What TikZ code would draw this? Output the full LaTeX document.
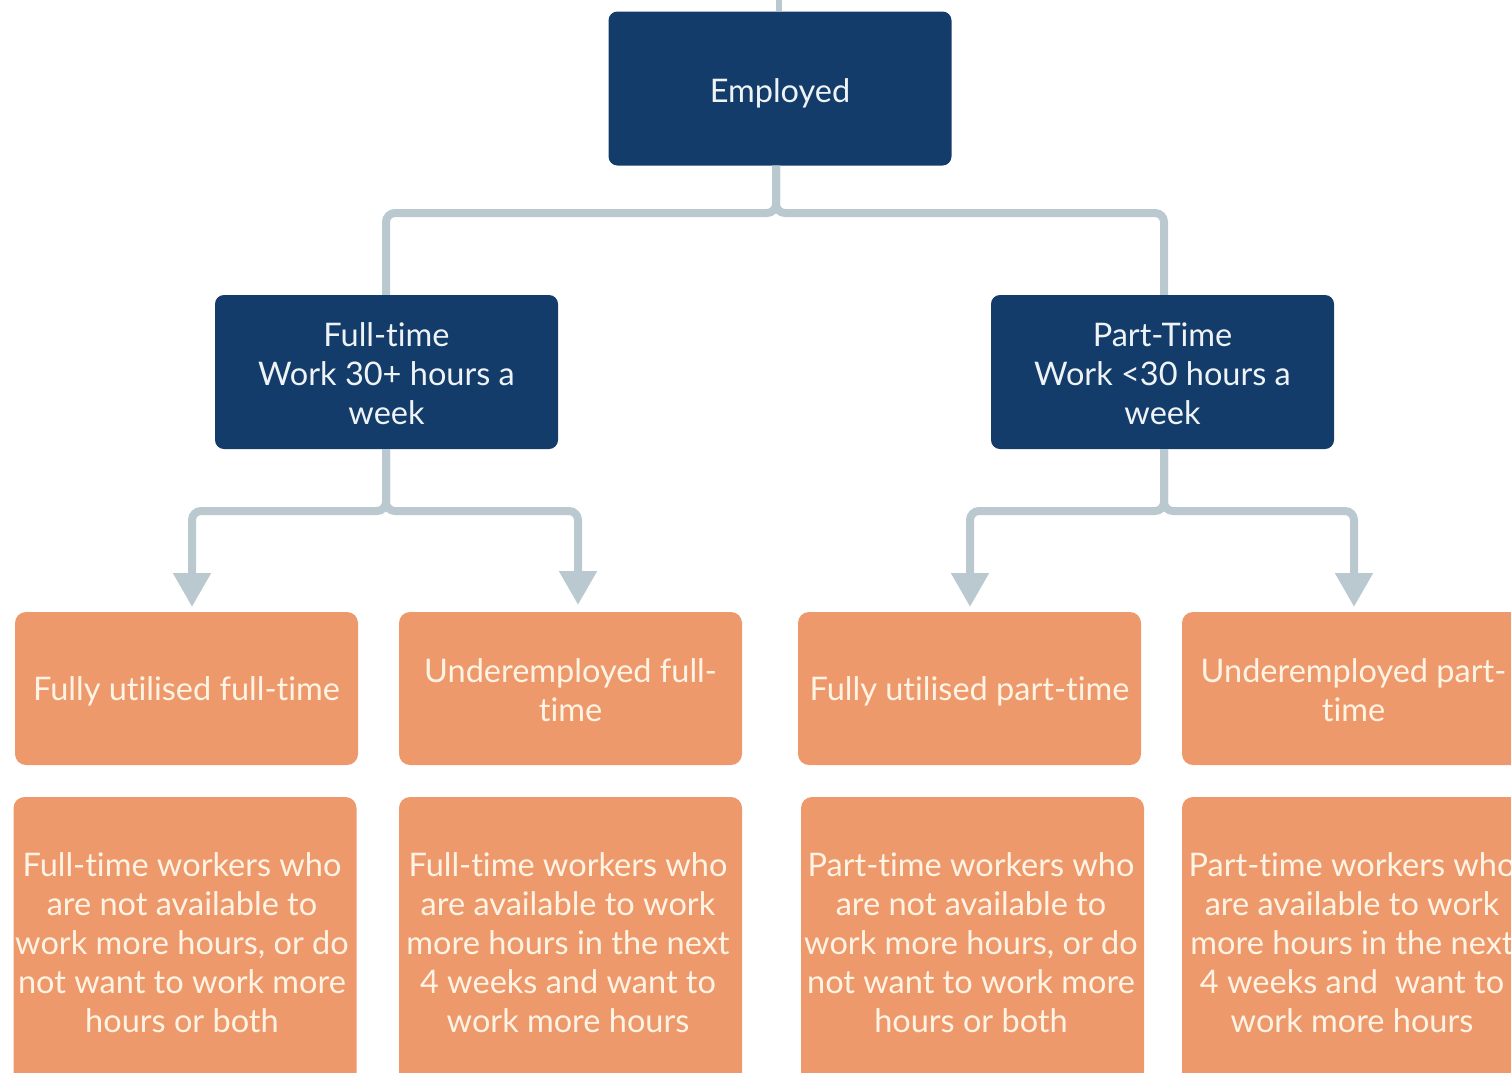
\documentclass[tikz,border=0pt]{standalone}
\usepackage{fontspec}
\setmainfont{Lato}[Ligatures=NoCommon]
\usetikzlibrary{arrows.meta}
\definecolor{navy}{HTML}{143C6B}
\definecolor{peach}{HTML}{EE996C}
\definecolor{linec}{HTML}{B9C9CF}
\definecolor{bluetxt}{HTML}{EEF3F6}
\definecolor{peachtxt}{HTML}{FFF4E4}
\newcommand{\bfnt}{\fontsize{32.5}{39}\selectfont}
\newcommand{\lowr}[2]{\raisebox{-#1}[\height][\depth]{#2}}
\tikzset{
  bluebox/.style={fill=navy, rounded corners=9pt, minimum width=343pt, minimum height=154pt,
    text=bluetxt, align=center, font=\bfnt, inner sep=0pt},
  peachbox/.style={fill=peach, rounded corners=11pt, minimum width=343pt,
    text=peachtxt, align=center, font=\bfnt, inner sep=0pt},
  ptext/.style={text=peachtxt, align=center, font=\bfnt},
  conn/.style={draw=linec, line width=8pt, rounded corners=9pt},
  tip/.style={-{Triangle[width=36pt,length=34pt]}}
}
\begin{document}
\begin{tikzpicture}[x=1pt,y=-1pt]
\useasboundingbox (0,0) rectangle (1511,1072);
% top boxes
\node[bluebox] (emp) at (780,88.5) {\lowr{4.5pt}{Employed}};
\node[bluebox] (ft) at (386.5,372) {\lowr{2pt}{\parbox{340pt}{\centering Full-time\\Work 30+ hours a\\week}}};
\node[bluebox] (pt) at (1162.5,372) {\lowr{2pt}{\parbox{340pt}{\centering Part-Time\\Work <30 hours a\\week}}};
% row 1
\node[peachbox, minimum height=153pt] (b1) at (186.5,688.5) {\lowr{3pt}{Fully utilised full-time}};
\node[peachbox, minimum height=153pt] (b2) at (570.5,688.5) {\lowr{2pt}{\parbox{340pt}{\centering Underemployed full-\\time}}};
\node[peachbox, minimum height=153pt] (b3) at (969.5,688.5) {\lowr{3pt}{Fully utilised part-time}};
\node[peachbox, minimum height=153pt] (b4) at (1353.5,688.5) {\lowr{2pt}{\parbox{340pt}{\centering Underemployed part-\\time}}};
% row 2
\node[peachbox, minimum height=300pt] (d1) at (185,947) {};
\node[peachbox, minimum height=300pt] (d2) at (570.5,947) {};
\node[peachbox, minimum height=300pt] (d3) at (972.5,947) {};
\node[peachbox, minimum height=300pt] (d4) at (1353.5,947) {};
\node[ptext] (t1) at (182,942.5) {Full-time workers who\\are not available to\\work more hours, or do\\not want to work more\\hours or both};
\node[ptext] (t2) at (568,942.5) {Full-time workers who\\are available to work\\more hours in the next\\4 weeks and want to\\work more hours};
\node[ptext] (t3) at (971,942.5) {Part-time workers who\\are not available to\\work more hours, or do\\not want to work more\\hours or both};
\node[ptext] (t4) at (1352,942.5) {Part-time workers who\\are available to work\\more hours in the next\\4 weeks and\ \ want to\\work more hours};
% connectors
\coordinate (top) at (779,0);
\draw[draw=linec, line width=6pt] (top) -- (emp.north -| top);
\draw[conn] (emp.south -| 776,0) |- (386,213) -- (ft.north -| 386,0);
\draw[conn] (emp.south -| 776,0) |- (1164,213) -- (pt.north -| 1164,0);
\coordinate (a1) at (192,607);
\coordinate (a2) at (578,605);
\coordinate (a3) at (970,607);
\coordinate (a4) at (1354,607);
\draw[conn,tip] (ft.south -| 386,0) |- (192,511) -- (a1);
\draw[conn,tip] (ft.south -| 386,0) |- (578,511) -- (a2);
\draw[conn,tip] (pt.south -| 1164,0) |- (970,511) -- (a3);
\draw[conn,tip] (pt.south -| 1164,0) |- (1354,511) -- (a4);
\end{tikzpicture}
\end{document}
